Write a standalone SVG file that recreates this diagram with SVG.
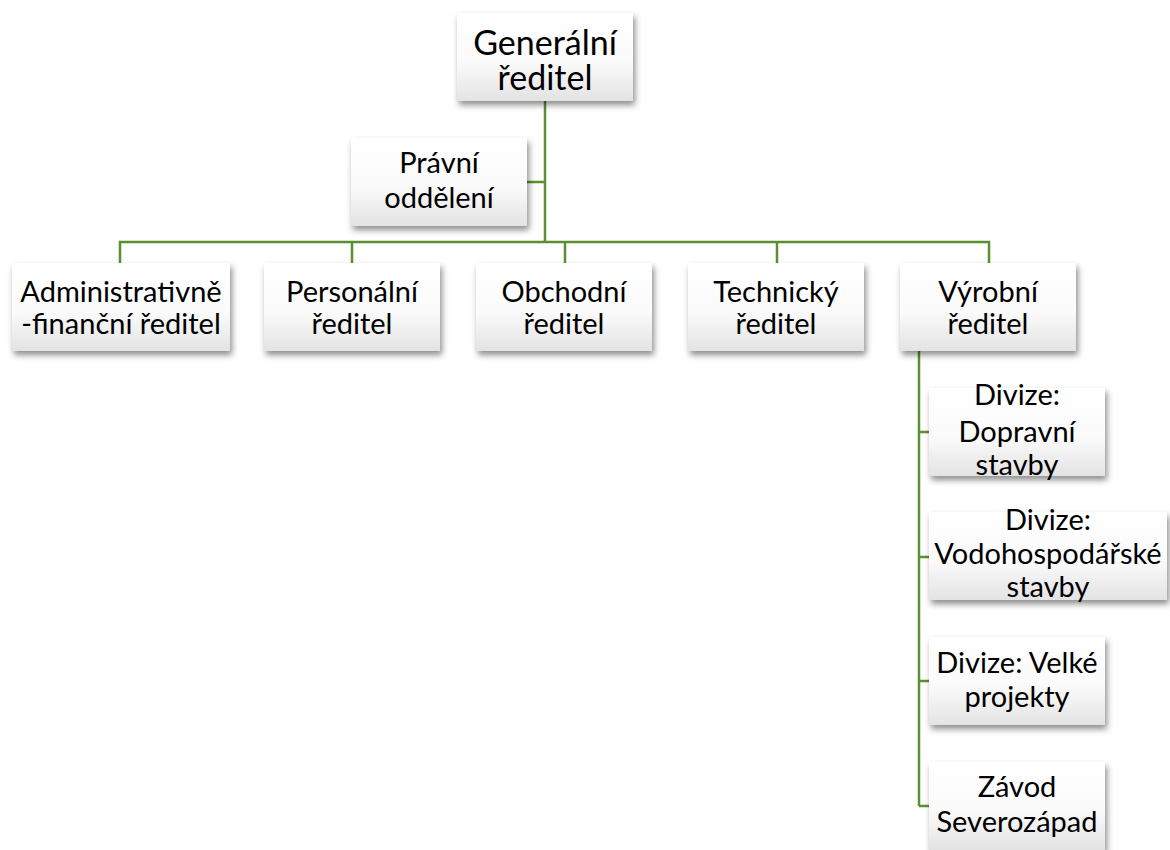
<svg xmlns="http://www.w3.org/2000/svg" width="1170" height="850" viewBox="0 0 1170 850">
<defs>
<linearGradient id="g" x1="0" y1="0" x2="0" y2="1">
<stop offset="0" stop-color="#ffffff"/>
<stop offset="0.55" stop-color="#fbfbfb"/>
<stop offset="1" stop-color="#e3e3e3"/>
</linearGradient>
<filter id="sh" x="-10%" y="-10%" width="125%" height="135%">
<feDropShadow dx="2" dy="4" stdDeviation="3" flood-color="#000" flood-opacity="0.45"/>
</filter>
</defs>
<style>
.box{fill:url(#g);filter:url(#sh)}
.t{font-family:Lato,"Liberation Sans",sans-serif;fill:#000;text-anchor:middle;font-size:29px}
.big{font-size:34px}
.ln{stroke:#5b8f32;stroke-width:2.5;fill:none}
</style>
<rect width="1170" height="850" fill="#fff"/>
<g id="connectors">
<path class="ln" d="M545 101V242M527 182H545M120 263V242H989V263M352 242V263M565 242V263M777 242V263"/>
<path class="ln" d="M919 351V806M919 432H929M919 557H929M919 681H929M919 806H929"/>
</g>
<g id="n-general"><rect class="box" x="457" y="13" width="176" height="88"/><text class="t big" x="545" y="55">Generální</text><text class="t big" x="545" y="90">ředitel</text></g>
<g id="n-pravni"><rect class="box" x="351" y="138" width="176" height="88"/><text class="t" x="439" y="173">Právní</text><text class="t" x="439" y="208">oddělení</text></g>
<g id="n-admin"><rect class="box" x="12" y="263" width="218" height="88"/><text class="t" x="121" y="302">Administrativně</text><text class="t" x="121" y="334">-finanční ředitel</text></g>
<g id="n-personalni"><rect class="box" x="264" y="263" width="176" height="88"/><text class="t" x="352" y="302">Personální</text><text class="t" x="352" y="334">ředitel</text></g>
<g id="n-obchodni"><rect class="box" x="476" y="263" width="176" height="88"/><text class="t" x="564" y="302">Obchodní</text><text class="t" x="564" y="334">ředitel</text></g>
<g id="n-technicky"><rect class="box" x="688" y="263" width="176" height="88"/><text class="t" x="776" y="302">Technický</text><text class="t" x="776" y="334">ředitel</text></g>
<g id="n-vyrobni"><rect class="box" x="900" y="263" width="176" height="88"/><text class="t" x="988" y="302">Výrobní</text><text class="t" x="988" y="334">ředitel</text></g>
<g id="n-dopravni"><rect class="box" x="929" y="388" width="176" height="88"/><text class="t" x="1017" y="405">Divize:</text><text class="t" x="1017" y="442">Dopravní</text><text class="t" x="1017" y="475">stavby</text></g>
<g id="n-vodo"><rect class="box" x="929" y="512" width="238" height="88"/><text class="t" x="1048" y="530">Divize:</text><text class="t" x="1048" y="564">Vodohospodářské</text><text class="t" x="1048" y="597">stavby</text></g>
<g id="n-velke"><rect class="box" x="929" y="637" width="176" height="88"/><text class="t" x="1017" y="673">Divize: Velké</text><text class="t" x="1017" y="707">projekty</text></g>
<g id="n-zavod"><rect class="box" x="929" y="762" width="176" height="88"/><text class="t" x="1017" y="797">Závod</text><text class="t" x="1017" y="832">Severozápad</text></g>
</svg>
